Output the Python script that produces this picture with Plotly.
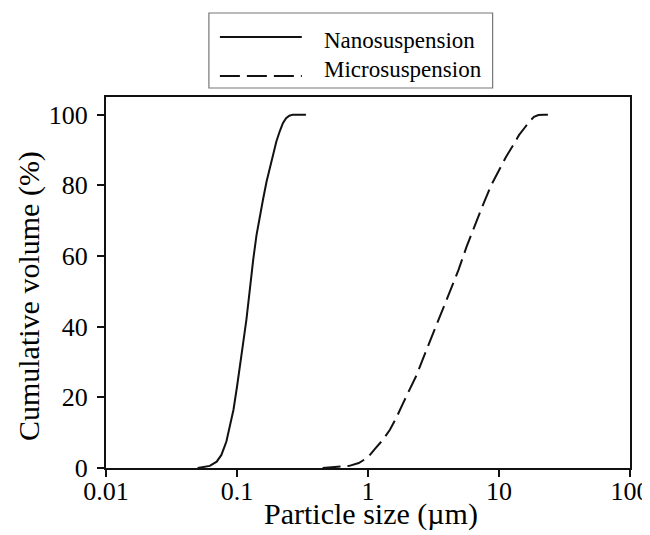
import plotly.graph_objects as go

# ---- data ----
series_names = ["Nanosuspension", "Microsuspension"]

nano_size = [0.050, 0.056, 0.062, 0.070, 0.076, 0.083, 0.088, 0.094, 0.100, 0.106,
             0.112, 0.118, 0.125, 0.133, 0.141, 0.150, 0.158, 0.168, 0.178, 0.189,
             0.200, 0.212, 0.224, 0.237, 0.251, 0.266, 0.300, 0.336]
nano_cum = [0.0, 0.3, 0.6, 1.8, 3.7, 7.5, 11.5, 16.5, 23.0, 29.0,
            36.0, 42.0, 51.0, 59.0, 66.0, 72.0, 76.0, 81.0, 85.0, 89.0,
            92.5, 95.3, 97.6, 99.0, 99.7, 100.0, 100.0, 100.0]

micro_size = [0.45, 0.60, 0.72, 0.85, 1.0, 1.13, 1.3, 1.47, 1.66, 1.85,
              2.1, 2.35, 2.7, 3.14, 3.6, 4.2, 4.9, 5.64, 6.5, 7.55,
              8.7, 10.1, 11.3, 12.8, 14.2, 15.7, 17.0, 18.5, 20.0, 22.0, 24.4]
micro_cum = [0.0, 0.3, 0.6, 1.4, 3.0, 5.4, 8.0, 10.8, 14.5, 18.3,
             22.5, 26.3, 32.0, 38.2, 43.8, 49.6, 56.0, 62.5, 68.5, 74.5,
             80.0, 84.5, 88.0, 91.3, 94.2, 96.3, 98.0, 99.4, 99.9, 100.0, 100.0]

x_tickvals = [0.01, 0.1, 1, 10, 100]
x_ticktext = ["0.01", "0.1", "1", "10", "100"]
y_tickvals = [0, 20, 40, 60, 80, 100]

x_title = "Particle size (µm)"
y_title = "Cumulative volume (%)"

# ---- figure ----
FONT = "Liberation Serif, Times New Roman, serif"
INK = "#111111"
solid_style = dict(color=INK, width=2)
dash_style = dict(color=INK, width=2, dash="18px,7px")

# page offset of the plot div (default body margin) and target page geometry
OFF = 8
FIG_W, FIG_H = 650 - OFF, 535 - OFF
L, R, T, B = 106, 630.5, 97, 468          # plot area in page pixels
W, H = R - L, B - T

fig = go.Figure()
fig.add_trace(go.Scatter(x=nano_size, y=nano_cum, mode="lines",
                         name=series_names[0], line=solid_style,
                         showlegend=False))
fig.add_trace(go.Scatter(x=micro_size, y=micro_cum, mode="lines",
                         name=series_names[1], line=dash_style,
                         showlegend=False))

axis_common = dict(showline=True, linecolor=INK, linewidth=2, mirror=True,
                   ticks="outside", ticklen=7, tickwidth=2, tickcolor=INK,
                   showgrid=False, zeroline=False,
                   tickfont=dict(family=FONT, size=26, color="black"))

fig.update_xaxes(type="log", range=[-2, 2], tickvals=x_tickvals,
                 ticktext=x_ticktext, ticklabelstandoff=-8,
                 **axis_common)
fig.update_yaxes(range=[0, 105], tickvals=y_tickvals, ticklabelstandoff=4,
                 **axis_common)


def px(xp):
    return (xp - L) / W


def py(yp):
    return (B - yp) / H


shapes = [
    dict(type="rect", xref="paper", yref="paper",
         x0=px(209), x1=px(493), y0=py(88), y1=py(13),
         line=dict(color="#777777", width=1.2), fillcolor="white"),
    dict(type="line", xref="paper", yref="paper",
         x0=px(220), x1=px(302), y0=py(37), y1=py(37), line=solid_style),
    dict(type="line", xref="paper", yref="paper",
         x0=px(220), x1=px(302), y0=py(76), y1=py(76),
         line=dict(color=INK, width=2, dash="20px,7px")),
]
annotations = [
    dict(xref="paper", yref="paper", x=px(322), y=py(40), text=series_names[0],
         showarrow=False, xanchor="left", yanchor="middle",
         font=dict(family=FONT, size=23, color="black")),
    dict(xref="paper", yref="paper", x=px(322), y=py(69), text=series_names[1],
         showarrow=False, xanchor="left", yanchor="middle",
         font=dict(family=FONT, size=23, color="black")),
    dict(xref="paper", yref="paper", x=px(29), y=py(296), text=y_title,
         textangle=-90, showarrow=False, xanchor="center", yanchor="middle",
         font=dict(family=FONT, size=30, color="black")),
    dict(xref="paper", yref="paper", x=px(371), y=py(514), text=x_title,
         showarrow=False, xanchor="center", yanchor="middle",
         font=dict(family=FONT, size=30, color="black")),
]

fig.update_layout(width=FIG_W, height=FIG_H,
                  margin=dict(l=L - OFF, r=FIG_W - (R - OFF), t=T - OFF,
                              b=FIG_H - (B - OFF), autoexpand=False),
                  paper_bgcolor="white", plot_bgcolor="white",
                  shapes=shapes, annotations=annotations,
                  font=dict(family=FONT, color="black"))

fig.write_html("out.html")
